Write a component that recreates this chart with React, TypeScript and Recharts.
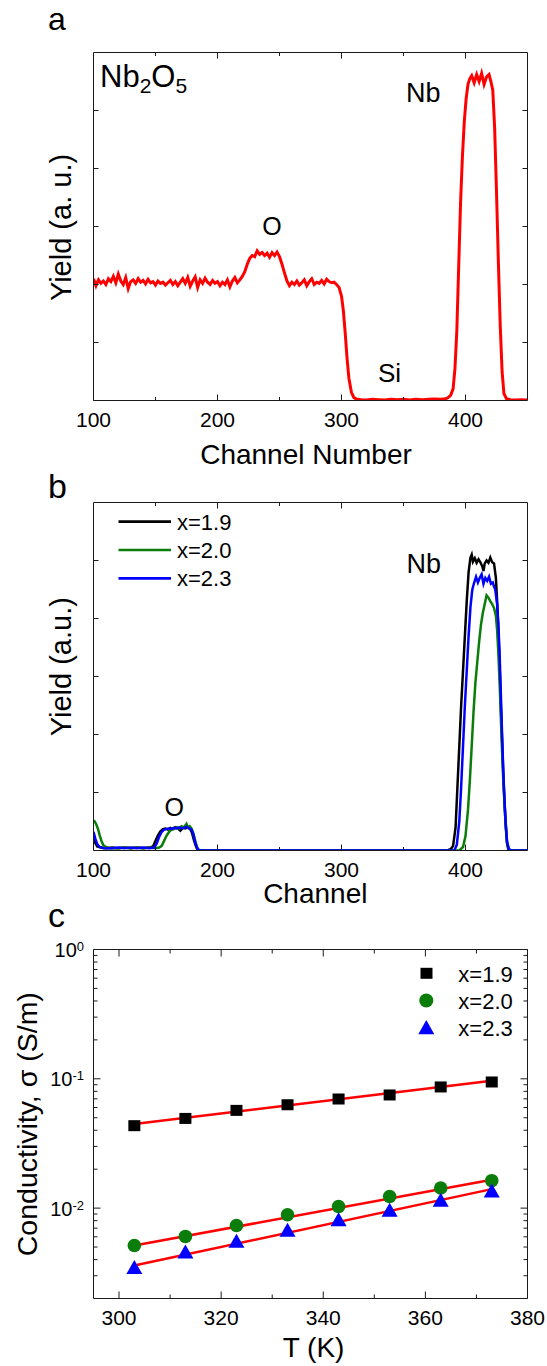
import React from 'react';
import { LineChart, Line, XAxis, YAxis, ComposedChart, Scatter } from 'recharts';

const FONT = "'Liberation Sans', Arial, Helvetica, sans-serif";
const INK = '#000';
const FRAME = '#1a1a1a';
const RED = '#ff0000';
const GREEN = '#0b7d0b';
const BLUE = '#0000ff';

// ---- Panel a: RBS spectrum of the Nb2O5 reference film ----
const channelA = [
  100, 102, 104, 106, 108, 110, 112, 114, 116, 118, 120, 122, 124, 126, 128, 130, 132, 134, 136, 138,
  140, 142, 144, 146, 148, 150, 152, 154, 156, 158, 160, 162, 164, 166, 168, 170, 172, 174, 176, 178,
  180, 182, 184, 186, 188, 190, 192, 194, 196, 198, 200, 202, 204, 206, 208, 210, 212, 214, 216, 218,
  220, 222, 224, 226, 228, 230, 232, 234, 236, 238, 240, 242, 244, 246, 248, 250, 252, 254, 256, 258,
  260, 262, 264, 266, 268, 270, 272, 274, 276, 278, 280, 282, 284, 286, 288, 290, 292, 294, 296, 298,
  300, 301.5, 303, 304.5, 306, 308, 310, 312, 316, 320, 325, 330, 335, 340, 345, 350, 355, 360, 365, 370,
  375, 380, 384, 386, 388, 390, 391.5, 393, 394.5, 396, 397.5, 399, 400.5, 402, 403.5, 405, 407, 409, 411, 413,
  415, 417, 419, 420.5, 422, 423.5, 425, 426.5, 428, 429.5, 431, 433, 436, 440, 445, 450,
];
const yieldA = [
  2.10, 1.98, 2.08, 2.02, 2.06, 2.00, 2.10, 2.05, 2.14, 2.03, 2.18, 2.06, 2.00, 2.12, 1.93, 2.05, 2.08, 2.02, 2.10, 2.04,
  2.07, 2.01, 2.09, 2.03, 2.05, 1.99, 2.06, 2.02, 2.04, 1.99, 2.03, 2.07, 2.00, 2.05, 1.98, 2.04, 2.10, 2.02, 2.12, 1.97,
  2.06, 2.13, 1.95, 2.08, 2.02, 2.11, 2.04, 2.00, 2.07, 2.02, 2.05, 1.98, 2.04, 2.00, 2.08, 1.96, 2.06, 2.12, 2.03, 2.08,
  2.14, 2.22, 2.35, 2.45, 2.50, 2.48, 2.58, 2.52, 2.55, 2.50, 2.54, 2.47, 2.55, 2.50, 2.56, 2.48, 2.35, 2.20, 2.06, 1.98,
  2.04, 2.00, 2.06, 1.99, 2.03, 2.08, 1.98, 2.05, 2.10, 2.00, 2.04, 2.02, 2.07, 2.01, 2.09, 2.05, 2.03, 2.04, 2.00, 1.95,
  1.80, 1.55, 1.16, 0.72, 0.38, 0.14, 0.05, 0.025, 0.015, 0.01, 0.02, 0.015, 0.01, 0.02, 0.015, 0.02, 0.01, 0.02, 0.015, 0.02,
  0.025, 0.02, 0.03, 0.05, 0.09, 0.2, 0.55, 1.2, 2.3, 3.4, 4.2, 4.8, 5.2, 5.45, 5.55, 5.6, 5.48, 5.62, 5.5, 5.64,
  5.45, 5.58, 5.62, 5.5, 5.35, 4.7, 3.6, 2.4, 1.3, 0.5, 0.12, 0.03, 0.015, 0.01, 0.015, 0.01,
];

// ---- Panel b: RBS spectra of the NbOx films ----
const channelB19 = [
  100, 101, 103, 106, 110, 115, 120, 125, 130, 135, 140, 145, 148, 150, 152, 154, 156, 158, 160, 162,
  164, 166, 168, 170, 172, 174, 176, 178, 179.5, 181, 182.5, 184, 186, 380, 386, 388, 390, 392, 393.5, 395,
  396.5, 398, 399.5, 401, 402.5, 404, 405, 406, 407.5, 409, 410.5, 412, 413.5, 414.5, 415.5, 417, 418.5, 420, 421.5, 423,
  424.5, 425.5, 426.5, 427.5, 428.5, 429.5, 430.5, 431.5, 432.5, 433.5, 434.5, 436, 450,
];
const yieldB19 = [
  0.30, 0.15, 0.07, 0.05, 0.04, 0.05, 0.04, 0.05, 0.04, 0.05, 0.04, 0.05, 0.07, 0.17, 0.26, 0.33, 0.37, 0.38, 0.36, 0.39,
  0.37, 0.40, 0.38, 0.34, 0.39, 0.38, 0.40, 0.37, 0.30, 0.18, 0.08, 0.01, 0, 0, 0.01, 0.02, 0.08, 0.4, 1.1, 1.8,
  2.5, 3.1, 3.7, 4.3, 4.8, 5.05, 5.1, 4.98, 5.04, 4.96, 5.02, 4.97, 4.9, 4.82, 4.95, 5.0, 4.96, 5.05, 4.97, 4.95,
  4.7, 4.3, 3.8, 3.2, 2.5, 1.9, 1.3, 0.8, 0.4, 0.12, 0.02, 0, 0,
];

const channelB20 = [
  100, 101, 102, 103.5, 105, 106.5, 108, 110, 113, 120, 125, 130, 135, 140, 145, 150, 153, 155, 157, 159,
  161, 163, 165, 167, 169, 171, 173, 175, 176, 177.5, 179, 180.5, 182, 183.5, 185, 187, 395, 398, 400, 402,
  403.5, 405, 406.5, 408, 409.5, 411, 412.5, 414, 415.5, 417, 418.5, 420, 421.5, 423, 424.5, 425.5, 426.5, 427.5, 428.5, 429.5,
  430.5, 432, 433.5, 435, 437, 450,
];
const yieldB20 = [
  0.52, 0.50, 0.46, 0.38, 0.26, 0.16, 0.09, 0.06, 0.04, 0.04, 0.05, 0.04, 0.05, 0.04, 0.05, 0.04, 0.05, 0.08, 0.17, 0.26,
  0.32, 0.36, 0.37, 0.40, 0.38, 0.42, 0.40, 0.46, 0.40, 0.42, 0.38, 0.30, 0.17, 0.06, 0.01, 0, 0, 0.06, 0.25, 0.7,
  1.2, 1.8, 2.4, 2.9, 3.25, 3.6, 3.9, 4.1, 4.25, 4.4, 4.36, 4.3, 4.25, 4.18, 4.05, 3.8, 3.4, 2.9, 2.3, 1.7,
  1.2, 0.6, 0.15, 0.02, 0, 0,
];

const channelB23 = [
  100, 101.5, 103, 105, 108, 115, 120, 125, 130, 135, 140, 145, 149, 151, 153, 155, 157, 159, 161, 163,
  165, 167, 169, 171, 173, 175, 177, 179, 180.5, 182, 183.5, 185, 391, 393, 395, 396.5, 398, 399.5, 401, 402.5,
  404, 405.5, 407, 408.5, 410, 411.5, 413, 414.5, 416, 417.5, 419, 420.5, 422, 423, 424, 425.5, 426.5, 427.5, 428.5, 429.5,
  430.5, 431.5, 432.5, 433.5, 435, 437, 450,
];
const yieldB23 = [
  0.32, 0.20, 0.11, 0.06, 0.04, 0.04, 0.05, 0.04, 0.05, 0.04, 0.05, 0.04, 0.05, 0.12, 0.24, 0.32, 0.36, 0.37, 0.38, 0.37,
  0.39, 0.38, 0.40, 0.38, 0.39, 0.41, 0.38, 0.36, 0.28, 0.14, 0.04, 0, 0, 0.1, 0.5, 1.1, 1.8, 2.5, 3.1, 3.7,
  4.2, 4.5, 4.62, 4.72, 4.62, 4.7, 4.76, 4.6, 4.7, 4.65, 4.72, 4.6, 4.62, 4.55, 4.5, 4.25, 3.9, 3.4, 2.7, 2.0,
  1.35, 0.85, 0.45, 0.15, 0.02, 0, 0,
];

// ---- Panel c: conductivity vs temperature ----
const tempC = [303, 313, 323, 333, 343, 353, 363, 373];
const sigma19 = [0.0434, 0.0494, 0.057, 0.063, 0.0698, 0.075, 0.0865, 0.0945];
const sigma20 = [0.00514, 0.00604, 0.00734, 0.00888, 0.0103, 0.0123, 0.0143, 0.0163];
const sigma23 = [0.0035, 0.00462, 0.00559, 0.0068, 0.0082, 0.0097, 0.0116, 0.0137];
const fitT = [303, 373];
const fit19 = [0.0447, 0.0968];
const fit20 = [0.00514, 0.01656];
const fit23 = [0.0036, 0.01403];

// tick positions
const chTicks = [100, 150, 200, 250, 300, 350, 400];
const chTopTicks = [150, 200, 250, 300, 350, 400];
const yieldTicks = [1, 2, 3, 4, 5];
const tTicks = [300, 310, 320, 330, 340, 350, 360, 370, 380];
const logTicks = [
  0.003, 0.004, 0.005, 0.006, 0.007, 0.008, 0.009, 0.01,
  0.02, 0.03, 0.04, 0.05, 0.06, 0.07, 0.08, 0.09, 0.1,
  0.2, 0.3, 0.4, 0.5, 0.6, 0.7, 0.8, 0.9, 1,
];
const legendNames = ['x=1.9', 'x=2.0', 'x=2.3'];
const seriesColors = [INK, GREEN, BLUE];

const zipCh = (ch: number[], y: number[]) => ch.map((c, i) => ({ ch: c, y: y[i] }));
const zipT = (t: number[], s: number[]) => t.map((v, i) => ({ T: v, s: s[i] }));

const dataA = zipCh(channelA, yieldA);
const dataB19 = zipCh(channelB19, yieldB19);
const dataB20 = zipCh(channelB20, yieldB20);
const dataB23 = zipCh(channelB23, yieldB23);
const pts19 = zipT(tempC, sigma19);
const pts20 = zipT(tempC, sigma20);
const pts23 = zipT(tempC, sigma23);
const line19 = zipT(fitT, fit19);
const line20 = zipT(fitT, fit20);
const line23 = zipT(fitT, fit23);

type Side = 'bottom' | 'top' | 'left' | 'right';

// Inward-pointing tick with an optional label outside the frame
const makeTick =
  (side: Side, len: (v: number) => number, label?: (v: number, x: number, y: number) => React.ReactNode) =>
  (props: any) => {
    const { x, y, payload } = props;
    const v = payload.value as number;
    const L = len(v);
    let seg: React.ReactNode = null;
    if (side === 'bottom') seg = <line x1={x} x2={x} y1={y} y2={y - L} stroke={FRAME} />;
    if (side === 'top') seg = <line x1={x} x2={x} y1={y} y2={y + L} stroke={FRAME} />;
    if (side === 'left') seg = <line x1={x} x2={x + L} y1={y} y2={y} stroke={FRAME} />;
    if (side === 'right') seg = <line x1={x} x2={x - L} y1={y} y2={y} stroke={FRAME} />;
    return (
      <g>
        {seg}
        {label ? label(v, x, y) : null}
      </g>
    );
  };

const bottomLabel = (x: number, y: number, text: string) => (
  <text x={x} y={y + 26} textAnchor="middle" fontSize={21} fontFamily={FONT} fill={INK}>
    {text}
  </text>
);

const chLen = (v: number) => (v % 100 === 0 ? 6 : 3.5);
const isDecade = (v: number) => Math.abs(Math.log10(v) - Math.round(Math.log10(v))) < 1e-6;
const logLen = (v: number) => (isDecade(v) ? 7 : 4);
const tLen = (v: number) => (v % 20 === 0 ? 7 : 4);

const chBottomTick = makeTick('bottom', chLen, (v, x, y) => (v % 100 === 0 ? bottomLabel(x, y, String(v)) : null));
const tBottomTick = makeTick('bottom', tLen, (v, x, y) => (v % 20 === 0 ? bottomLabel(x, y, String(v)) : null));
const logLeftTick = makeTick('left', logLen, (v, x, y) =>
  isDecade(v) ? (
    <text x={x - 9.5} y={y + 7.5} textAnchor="end" fontSize={20} fontFamily={FONT} fill={INK}>
      10
      <tspan dy={-6} fontSize={13}>
        {String(Math.round(Math.log10(v)))}
      </tspan>
    </text>
  ) : null,
);

// Axis lines form the closed frame; tick marks come from the custom tick renderers
const frameAxis = { axisLine: { stroke: FRAME, strokeWidth: 1 }, tickLine: false, interval: 0 as const };

export default function App() {
  return (
    <div
      style={{
        position: 'absolute',
        left: 0,
        top: 0,
        width: 547,
        height: 1366,
        background: '#fff',
        overflow: 'hidden',
        fontFamily: FONT,
      }}
    >
      {/* a */}
      <div style={{ position: 'absolute', left: 0, top: 0 }}>
        <LineChart width={547} height={440} margin={{ top: 51.5, right: 18.5, bottom: 38.5, left: 92.5 }}>
          <XAxis
            dataKey="ch"
            type="number"
            domain={[100, 450]}
            allowDataOverflow
            ticks={chTicks}
            height={1}
            tickSize={0}
            tickMargin={0}
            tick={chBottomTick}
            {...frameAxis}
          />
          <XAxis
            xAxisId="top"
            orientation="top"
            dataKey="ch"
            type="number"
            domain={[100, 450]}
            allowDataOverflow
            ticks={chTopTicks}
            height={1}
            tickSize={0}
            tickMargin={0}
            tick={makeTick('top', chLen)}
            {...frameAxis}
          />
          <YAxis
            type="number"
            domain={[0, 6]}
            allowDataOverflow
            ticks={yieldTicks}
            width={1}
            tickSize={0}
            tickMargin={0}
            tick={makeTick('left', () => 5)}
            {...frameAxis}
          />
          <YAxis
            yAxisId="right"
            orientation="right"
            type="number"
            domain={[0, 6]}
            allowDataOverflow
            ticks={yieldTicks}
            width={1}
            tickSize={0}
            tickMargin={0}
            tick={makeTick('right', () => 5)}
            {...frameAxis}
          />
          <Line
            data={dataA}
            dataKey="y"
            type="linear"
            stroke={RED}
            strokeWidth={3}
            dot={false}
            isAnimationActive={false}
          />
        </LineChart>
      </div>

      {/* b */}
      <div style={{ position: 'absolute', left: 0, top: 460 }}>
        <LineChart width={547} height={420} margin={{ top: 41.5, right: 18.5, bottom: 28.5, left: 92.5 }}>
          <XAxis
            dataKey="ch"
            type="number"
            domain={[100, 450]}
            allowDataOverflow
            ticks={chTicks}
            height={1}
            tickSize={0}
            tickMargin={0}
            tick={chBottomTick}
            {...frameAxis}
          />
          <XAxis
            xAxisId="top"
            orientation="top"
            dataKey="ch"
            type="number"
            domain={[100, 450]}
            allowDataOverflow
            ticks={chTopTicks}
            height={1}
            tickSize={0}
            tickMargin={0}
            tick={makeTick('top', chLen)}
            {...frameAxis}
          />
          <YAxis
            type="number"
            domain={[0, 6]}
            allowDataOverflow
            ticks={yieldTicks}
            width={1}
            tickSize={0}
            tickMargin={0}
            tick={makeTick('left', () => 5)}
            {...frameAxis}
          />
          <YAxis
            yAxisId="right"
            orientation="right"
            type="number"
            domain={[0, 6]}
            allowDataOverflow
            ticks={yieldTicks}
            width={1}
            tickSize={0}
            tickMargin={0}
            tick={makeTick('right', () => 5)}
            {...frameAxis}
          />
          <Line data={dataB19} dataKey="y" name={legendNames[0]} type="linear" stroke={seriesColors[0]} strokeWidth={2.5} dot={false} isAnimationActive={false} />
          <Line data={dataB20} dataKey="y" name={legendNames[1]} type="linear" stroke={seriesColors[1]} strokeWidth={2.5} dot={false} isAnimationActive={false} />
          <Line data={dataB23} dataKey="y" name={legendNames[2]} type="linear" stroke={seriesColors[2]} strokeWidth={2.5} dot={false} isAnimationActive={false} />
        </LineChart>
      </div>

      {/* c */}
      <div style={{ position: 'absolute', left: 0, top: 880 }}>
        <ComposedChart width={547} height={486} margin={{ top: 68.5, right: 18.5, bottom: 66.5, left: 92.5 }}>
          <XAxis
            dataKey="T"
            type="number"
            domain={[295, 380]}
            allowDataOverflow
            ticks={tTicks}
            height={1}
            tickSize={0}
            tickMargin={0}
            tick={tBottomTick}
            {...frameAxis}
          />
          <XAxis
            xAxisId="top"
            orientation="top"
            dataKey="T"
            type="number"
            domain={[295, 380]}
            allowDataOverflow
            ticks={tTicks}
            height={1}
            tickSize={0}
            tickMargin={0}
            tick={makeTick('top', tLen)}
            {...frameAxis}
          />
          <YAxis
            dataKey="s"
            type="number"
            scale="log"
            domain={[0.002, 1]}
            allowDataOverflow
            ticks={logTicks}
            width={1}
            tickSize={0}
            tickMargin={0}
            tick={logLeftTick}
            {...frameAxis}
          />
          <YAxis
            yAxisId="right"
            orientation="right"
            dataKey="s"
            type="number"
            scale="log"
            domain={[0.002, 1]}
            allowDataOverflow
            ticks={logTicks}
            width={1}
            tickSize={0}
            tickMargin={0}
            tick={makeTick('right', logLen)}
            {...frameAxis}
          />
          <Scatter
            data={pts19}
            name={legendNames[0]}
            isAnimationActive={false}
            shape={(p: any) => <rect x={p.cx - 6} y={p.cy - 5.5} width={12} height={11} fill={INK} />}
          />
          <Scatter
            data={pts20}
            name={legendNames[1]}
            isAnimationActive={false}
            shape={(p: any) => <circle cx={p.cx} cy={p.cy} r={6.8} fill={GREEN} />}
          />
          <Scatter
            data={pts23}
            name={legendNames[2]}
            isAnimationActive={false}
            shape={(p: any) => (
              <polygon points={`${p.cx},${p.cy - 7} ${p.cx + 8},${p.cy + 7} ${p.cx - 8},${p.cy + 7}`} fill={BLUE} />
            )}
          />
          <Line data={line19} dataKey="s" type="linear" stroke={RED} strokeWidth={2.5} dot={false} isAnimationActive={false} />
          <Line data={line20} dataKey="s" type="linear" stroke={RED} strokeWidth={2.5} dot={false} isAnimationActive={false} />
          <Line data={line23} dataKey="s" type="linear" stroke={RED} strokeWidth={2.5} dot={false} isAnimationActive={false} />
        </ComposedChart>
      </div>

      {/* titles, annotations and legends */}
      <svg
        width={547}
        height={1366}
        style={{ position: 'absolute', left: 0, top: 0, pointerEvents: 'none' }}
        fontFamily={FONT}
        fill={INK}
      >
        {/* panel letters */}
        <text x={48} y={29.5} fontSize={32}>a</text>
        <text x={48} y={498} fontSize={34}>b</text>
        <text x={48} y={927} fontSize={34}>c</text>

        {/* panel a */}
        <text x={100} y={87} fontSize={31}>
          Nb<tspan fontSize={21} dy={6}>2</tspan>
          <tspan dy={-6}>O</tspan>
          <tspan fontSize={21} dy={6}>5</tspan>
        </text>
        <text x={406} y={101.5} fontSize={27}>Nb</text>
        <text x={272} y={235} fontSize={25} textAnchor="middle">O</text>
        <text x={378} y={381.5} fontSize={26}>Si</text>
        <text x={306} y={464} fontSize={28} textAnchor="middle">Channel Number</text>
        <text x={71.4} y={227.5} fontSize={29} textAnchor="middle" transform="rotate(-90 71.4 227.5)">
          Yield (a. u.)
        </text>

        {/* panel b */}
        {legendNames.map((n, i) => (
          <g key={n}>
            <line x1={118.5} x2={171} y1={521.7 + i * 28.3} y2={521.7 + i * 28.3} stroke={seriesColors[i]} strokeWidth={2.7} />
            <text x={177} y={521.7 + i * 28.3 + 8} fontSize={22}>{n}</text>
          </g>
        ))}
        <text x={406.5} y={573.3} fontSize={27}>Nb</text>
        <text x={174.2} y={816} fontSize={25} textAnchor="middle">O</text>
        <text x={315.3} y={903.3} fontSize={28} textAnchor="middle">Channel</text>
        <text x={71.4} y={666.7} fontSize={29} textAnchor="middle" transform="rotate(-90 71.4 666.7)">
          Yield (a.u.)
        </text>

        {/* panel c */}
        <rect x={420.5} y={967.8} width={12} height={11} fill={INK} />
        <circle cx={426.3} cy={1000.5} r={7} fill={GREEN} />
        <polygon points="426.3,1020 434.3,1034.3 418.3,1034.3" fill={BLUE} />
        {legendNames.map((n, i) => (
          <text key={n} x={458.3} y={973.5 + i * 27 + 8} fontSize={22}>{n}</text>
        ))}
        <text x={313.6} y={1357} fontSize={28} textAnchor="middle">T (K)</text>
        <text x={36.6} y={1124.2} fontSize={28.5} textAnchor="middle" transform="rotate(-90 36.6 1124.2)">
          Conductivity, σ (S/m)
        </text>
      </svg>
    </div>
  );
}
